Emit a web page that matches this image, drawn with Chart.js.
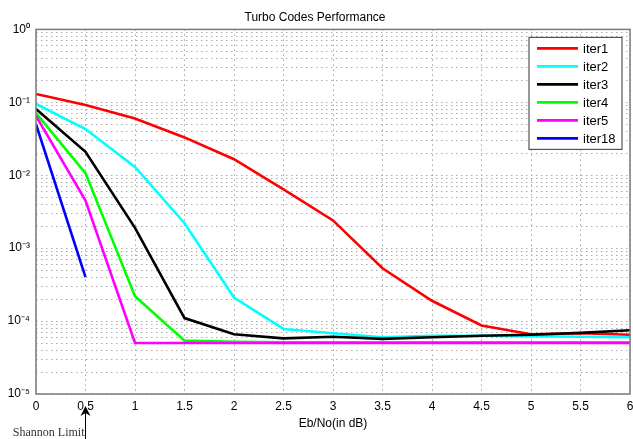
<!DOCTYPE html>
<html lang="en">
<head>
  <meta charset="UTF-8" />
  <title>Turbo Codes Performance</title>
  <script src="https://cdn.jsdelivr.net/npm/chart.js"></script>
  <style>
    body {
      margin: 0;
      background-color: #ffffff;
    }
    #wrap {
      width: 633px;
      height: 439px;
    }
  </style>
</head>
<body>
  <div id="wrap">
    <canvas id="turboChart" width="633" height="439"></canvas>
  </div>

  <script>
    // Eb/No values (dB)
    const ebno = [0, 0.5, 1, 1.5, 2, 2.5, 3, 3.5, 4, 4.5, 5, 5.5, 6];

    // BER per iteration count
    const iter1 = [0.13, 0.092, 0.060, 0.033, 0.0166, 0.0064, 0.0024, 0.00053, 0.00019, 8.7e-5, 6.6e-5, 6.8e-5, 6.5e-5];
    const iter2 = [0.095, 0.043, 0.013, 0.0022, 2.1e-4, 7.8e-5, 6.8e-5, 6.0e-5, 6.3e-5, 6.3e-5, 6.2e-5, 6.1e-5, 6.0e-5];
    const iter3 = [0.081, 0.021, 0.0019, 1.1e-4, 6.6e-5, 5.8e-5, 6.1e-5, 5.7e-5, 6.0e-5, 6.3e-5, 6.5e-5, 6.9e-5, 7.5e-5];
    const iter4 = [0.071, 0.0107, 2.2e-4, 5.4e-5, 5.2e-5, 5.1e-5, 5.1e-5, 5.1e-5, 5.1e-5, 5.1e-5, 5.1e-5, 5.1e-5, 5.1e-5];
    const iter5 = [0.065, 0.0045, 5e-5, 5e-5, 5e-5, 5e-5, 5e-5, 5e-5, 5e-5, 5e-5, 5e-5, 5e-5, 5e-5];
    const iter18 = [0.05, 4e-4];

    const seriesNames = ["iter1", "iter2", "iter3", "iter4", "iter5", "iter18"];
    const seriesValues = [iter1, iter2, iter3, iter4, iter5, iter18];
    const seriesColors = ["#ff0000", "#00ffff", "#000000", "#00ff00", "#ff00ff", "#0000ff"];

    // y axis decades and their labels
    const yDecades = [1, 0.1, 0.01, 0.001, 0.0001, 0.00001];
    const yTickLabels = ["10\u2070", "10\u207B\u00B9", "10\u207B\u00B2", "10\u207B\u00B3", "10\u207B\u2074", "10\u207B\u2075"];
    const xTickLabels = ["0", "0.5", "1", "1.5", "2", "2.5", "3", "3.5", "4", "4.5", "5", "5.5", "6"];

    const datasets = seriesNames.map((name, i) => ({
      label: name,
      data: seriesValues[i].map((v, j) => ({ x: ebno[j], y: v })),
      borderColor: seriesColors[i],
      backgroundColor: seriesColors[i],
      borderWidth: 2.6,
      pointRadius: 0,
      tension: 0,
      order: seriesNames.length - i
    }));

    // box around plot, legend box and Shannon limit arrow
    const extras = {
      id: "extras",
      afterDatasetsDraw(chart) {
        const { ctx, chartArea: a } = chart;
        ctx.save();
        ctx.strokeStyle = "#7a7a7a";
        ctx.lineWidth = 1.5;
        ctx.strokeRect(a.left, a.top, a.right - a.left, a.bottom - a.top);

        // legend
        const lx = a.right - 101, ly = a.top + 8, lw = 93, lh = 112;
        ctx.fillStyle = "#ffffff";
        ctx.fillRect(lx, ly, lw, lh);
        ctx.strokeStyle = "#555555";
        ctx.lineWidth = 1.2;
        ctx.strokeRect(lx, ly, lw, lh);
        ctx.font = "13px 'Liberation Sans', Arial, sans-serif";
        ctx.textBaseline = "middle";
        chart.data.datasets.forEach((ds, i) => {
          const y = ly + 11 + i * 18;
          ctx.strokeStyle = ds.borderColor;
          ctx.lineWidth = 2.6;
          ctx.beginPath();
          ctx.moveTo(lx + 8, y);
          ctx.lineTo(lx + 49, y);
          ctx.stroke();
          ctx.fillStyle = "#000000";
          ctx.fillText(ds.label, lx + 54, y + 1);
        });

        // Shannon limit
        const sx = chart.scales.x.getPixelForValue(0.5);
        ctx.strokeStyle = "#000000";
        ctx.lineWidth = 1;
        ctx.beginPath();
        ctx.moveTo(sx, 410);
        ctx.lineTo(sx, 439);
        ctx.stroke();
        ctx.fillStyle = "#000000";
        ctx.beginPath();
        ctx.moveTo(sx, 406);
        ctx.lineTo(sx - 5, 416);
        ctx.lineTo(sx, 413);
        ctx.lineTo(sx + 5, 416);
        ctx.closePath();
        ctx.fill();
        ctx.font = "12px 'Liberation Serif', 'DejaVu Serif', serif";
        ctx.textAlign = "right";
        ctx.textBaseline = "alphabetic";
        ctx.fillStyle = "#333333";
        ctx.fillText("Shannon Limit", sx - 1, 436);
        ctx.restore();
      }
    };

    const ctx = document.getElementById("turboChart").getContext("2d");
    const chart = new Chart(ctx, {
      type: "line",
      data: { datasets: datasets },
      options: {
        responsive: false,
        animation: false,
        devicePixelRatio: 1,
        layout: { padding: { left: 0, right: 3, top: 0, bottom: 0 } },
        plugins: {
          legend: { display: false },
          tooltip: { enabled: false },
          title: {
            display: true,
            text: "Turbo Codes Performance",
            color: "#000000",
            font: { family: "'Liberation Sans', Arial, sans-serif", size: 12, weight: "normal" },
            padding: { top: 10, bottom: 5 }
          }
        },
        scales: {
          x: {
            type: "linear",
            min: 0,
            max: 6,
            afterBuildTicks(scale) {
              scale.ticks = ebno.map(v => ({ value: v }));
            },
            afterFit(scale) {
              scale.height = 45;
              scale.paddingLeft = 0;
              scale.paddingRight = 0;
            },
            ticks: {
              autoSkip: false,
              maxRotation: 0,
              padding: 5,
              color: "#000000",
              font: { family: "'Liberation Sans', Arial, sans-serif", size: 12 },
              callback: (v, i) => xTickLabels[i]
            },
            grid: { color: "#a4a4a4", lineWidth: 1, drawTicks: false },
            border: { display: false, dash: [1.5, 3.5] },
            title: {
              display: true,
              text: "Eb/No(in dB)",
              color: "#000000",
              font: { family: "'Liberation Sans', Arial, sans-serif", size: 12 },
              padding: { top: 2, bottom: 8 }
            }
          },
          y: {
            type: "logarithmic",
            min: 1e-5,
            max: 1,
            afterBuildTicks(scale) {
              const t = [];
              yDecades.slice(1).forEach(d => {
                for (let k = 1; k <= 9; k++) t.push({ value: d * k, major: k === 1 });
              });
              t.push({ value: 1, major: true });
              scale.ticks = t;
            },
            afterFit(scale) {
              scale.width = 36;
            },
            ticks: {
              autoSkip: false,
              padding: 6,
              color: "#000000",
              font: { family: "'Liberation Sans', Arial, sans-serif", size: 12 },
              callback: (v) => {
                const i = yDecades.findIndex(d => Math.abs(v / d - 1) < 1e-6);
                return i >= 0 ? yTickLabels[i] : "";
              }
            },
            grid: { color: "#acacac", lineWidth: 1, drawTicks: false },
            border: { display: false, dash: [1.5, 3.5] }
          }
        }
      },
      plugins: [extras]
    });
  </script>
</body>
</html>
